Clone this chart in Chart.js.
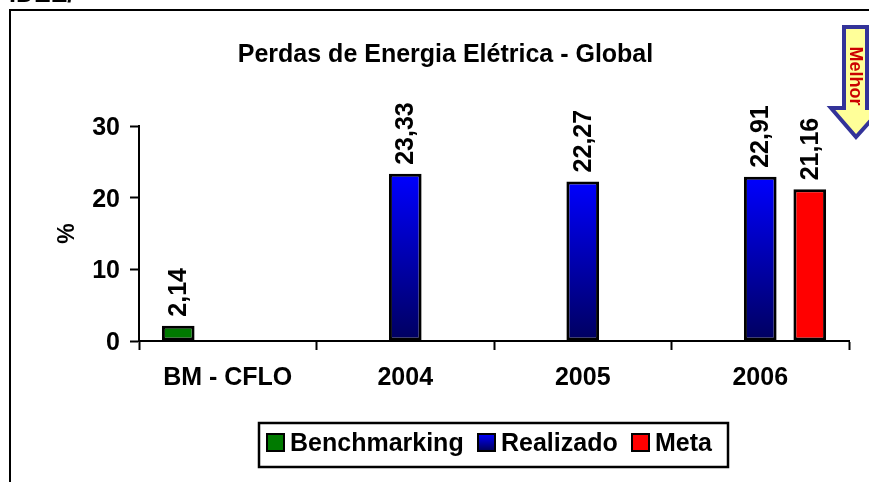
<!DOCTYPE html>
<html><head><meta charset="utf-8">
<style>html,body{margin:0;padding:0;background:#fff}canvas{display:block}</style>
<script src="https://cdn.jsdelivr.net/npm/chart.js@4"></script></head>
<body><div style="position:relative;width:869px;height:482px"><canvas id="c" width="869" height="482"></canvas></div>
<script>
const categories = ['BM - CFLO', '2004', '2005', '2006'];
const benchmarking = [2.14, null, null, null];
const realizado = [null, 23.33, 22.27, 22.91];
const meta = [null, null, null, 21.16];
const yTicks = [0, 10, 20, 30];
const chartTitle = 'Perdas de Energia Elétrica - Global';
const yTitle = '%';
const topFragment = 'IDEE/';
const arrowLabel = 'Melhor';
const FONT = '"Liberation Sans", Arial, sans-serif';
const fmt = v => v.toFixed(2).replace('.', ',');

function blueFill(ctx, y0, y1) {
  const g = ctx.createLinearGradient(0, y0, 0, y1);
  g.addColorStop(0, '#0000ff');
  g.addColorStop(1, '#00005f');
  return g;
}

const decor = {
  id: 'decor',
  beforeDraw(chart) {
    const ctx = chart.ctx;
    ctx.save();
    ctx.fillStyle = '#fff';
    ctx.fillRect(0, 0, 869, 482);
    ctx.fillStyle = '#000';
    ctx.font = 'bold 25px ' + FONT;
    ctx.textBaseline = 'alphabetic';
    ctx.fillText(topFragment, 9, 2);
    ctx.fillRect(9, 9, 860, 2);
    ctx.fillRect(9, 9, 2, 473);
    ctx.font = 'bold 25px ' + FONT;
    ctx.textAlign = 'center';
    ctx.textBaseline = 'middle';
    ctx.fillText(chartTitle, 445.5, 55);
    ctx.restore();
  },
  afterDatasetsDraw(chart) {
    const ctx = chart.ctx;
    ctx.save();
    ctx.font = 'bold 25px ' + FONT;
    ctx.fillStyle = '#000';
    ctx.textAlign = 'left';
    ctx.textBaseline = 'middle';
    chart.data.datasets.forEach((ds, i) => {
      chart.getDatasetMeta(i).data.forEach((el, j) => {
        const v = ds.data[j];
        if (v == null) return;
        ctx.save();
        ctx.translate(el.x + 1, el.y - 9);
        ctx.rotate(-Math.PI / 2);
        ctx.fillText(fmt(v), 0, 0);
        ctx.restore();
      });
    });
    // arrow
    ctx.beginPath();
    const pts = [[844, 27], [867, 27], [867, 108], [882, 108], [856, 137], [831, 108], [844, 108]];
    ctx.moveTo(pts[0][0], pts[0][1]);
    pts.slice(1).forEach(p => ctx.lineTo(p[0], p[1]));
    ctx.closePath();
    ctx.fillStyle = '#FFFF99';
    ctx.fill();
    ctx.lineWidth = 4;
    ctx.strokeStyle = '#333399';
    ctx.stroke();
    ctx.save();
    ctx.translate(855, 76);
    ctx.rotate(Math.PI / 2);
    ctx.font = 'bold 18px ' + FONT;
    ctx.fillStyle = '#CC0000';
    ctx.textAlign = 'center';
    ctx.textBaseline = 'middle';
    ctx.fillText(arrowLabel, 0, 0);
    ctx.restore();
    // legend
    ctx.strokeStyle = '#000';
    ctx.lineWidth = 2.5;
    ctx.fillStyle = '#fff';
    ctx.fillRect(259, 423, 469, 44);
    ctx.strokeRect(259, 423, 469, 44);
    const items = [
      [chart.data.datasets[0].label, 267, '#007a00'],
      [chart.data.datasets[1].label, 478, blueFill(ctx, 434, 450)],
      [chart.data.datasets[2].label, 632, '#ff0000']
    ];
    ctx.font = 'bold 25px ' + FONT;
    ctx.textAlign = 'left';
    ctx.textBaseline = 'middle';
    ctx.lineWidth = 2;
    items.forEach(([t, x, c]) => {
      ctx.fillStyle = c;
      ctx.fillRect(x, 434, 17, 17);
      ctx.strokeRect(x, 434, 17, 17);
      ctx.fillStyle = '#000';
      ctx.fillText(t, x + 23, 444);
    });
    ctx.restore();
  }
};

const blueGrad = c => {
  const { chart } = c;
  const a = chart.chartArea;
  if (!a) return '#0000ff';
  return blueFill(chart.ctx, chart.scales.y.getPixelForValue(realizado[c.dataIndex] || 0), a.bottom);
};

const tickFont = { family: FONT, weight: 'bold', size: 25 };
const axisGrid = { display: true, drawOnChartArea: false, drawTicks: true, tickLength: 9, tickColor: '#000', tickWidth: 2 };

new Chart(document.getElementById('c'), {
  type: 'bar',
  plugins: [decor],
  data: {
    labels: categories,
    datasets: [
      { label: 'Benchmarking', data: benchmarking, backgroundColor: '#007a00', borderColor: '#000', borderWidth: 3, borderSkipped: false },
      { label: 'Realizado', data: realizado, backgroundColor: blueGrad, borderColor: '#000', borderWidth: 3, borderSkipped: false },
      { label: 'Meta', data: meta, backgroundColor: '#ff0000', borderColor: '#000', borderWidth: 3, borderSkipped: false }
    ]
  },
  options: {
    responsive: false,
    animation: false,
    layout: { padding: { top: 126, right: 20, left: 0, bottom: 0 } },
    categoryPercentage: 0.837,
    barPercentage: 0.66,
    plugins: { legend: { display: false }, title: { display: false }, tooltip: { enabled: false } },
    scales: {
      x: {
        afterFit(s) { s.height = 141; },
        grid: axisGrid,
        border: { display: true, color: '#000', width: 2 },
        ticks: { color: '#000', font: tickFont, padding: 13, maxRotation: 0 }
      },
      y: {
        min: 0, max: 30,
        afterFit(s) { s.width = 139; },
        afterBuildTicks(s) { s.ticks = yTicks.map(v => ({ value: v })); },
        grid: axisGrid,
        border: { display: true, color: '#000', width: 2 },
        ticks: { color: '#000', font: tickFont, padding: 10, labelOffset: 2 },
        title: { display: true, text: yTitle, color: '#000', font: { family: FONT, weight: 'bold', size: 23 }, padding: { top: 54, bottom: 0 } }
      }
    }
  }
});
</script></body></html>
